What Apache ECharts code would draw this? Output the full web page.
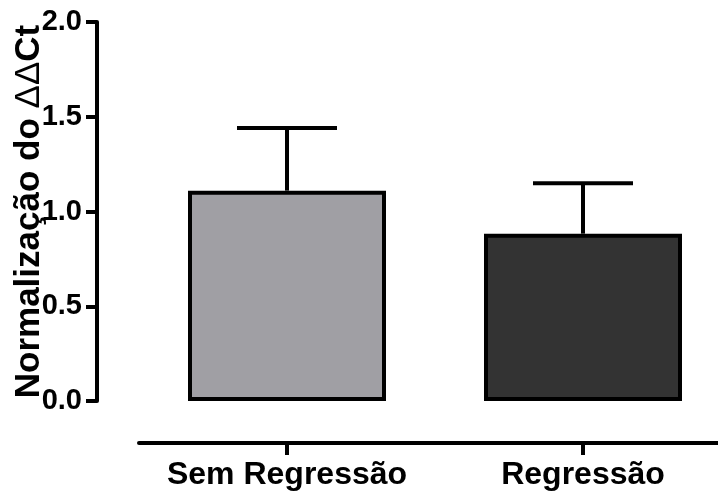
<!DOCTYPE html>
<html>
<head>
<meta charset="utf-8">
<script src="https://cdn.jsdelivr.net/npm/echarts@6/dist/echarts.min.js"></script>
<style>
  html, body { margin: 0; padding: 0; background: #ffffff; }
  #chart { width: 718px; height: 498px; }
</style>
</head>
<body>
<div id="chart"></div>
<script>
// Group names and measured values (mean and standard error)
const categories = ['Sem Regressão', 'Regressão'];
const means = [1.11, 0.883];
const sems = [0.33, 0.266];
const barColors = ['#a09fa4', '#333333'];
const yTicks = [0, 0.5, 1.0, 1.5, 2.0];

const FONT = '"Liberation Sans", Arial, Helvetica, sans-serif';
const STROKE = 4;

const chart = echarts.init(document.getElementById('chart'), null, { renderer: 'canvas' });

const option = {
  backgroundColor: '#ffffff',
  animation: false,
  grid: { left: 139, top: 22, width: 592, height: 379, containLabel: false, outerBoundsMode: 'none' },
  xAxis: {
    type: 'category',
    data: categories,
    offset: 42,
    axisLine: { show: true, onZero: false, lineStyle: { color: '#000', width: STROKE } },
    axisTick: { show: true, alignWithLabel: true, length: 12, lineStyle: { color: '#000', width: STROKE } },
    axisLabel: {
      interval: 0,
      margin: 16,
      color: '#000',
      fontFamily: FONT,
      fontWeight: 'bold',
      fontSize: 32
    },
    splitLine: { show: false }
  },
  yAxis: {
    type: 'value',
    min: yTicks[0],
    max: yTicks[yTicks.length - 1],
    interval: yTicks[1] - yTicks[0],
    offset: 42,
    name: '{b|Normalização do }{d|ΔΔ}{b|Ct}',
    nameLocation: 'middle',
    nameGap: 50,
    nameMoveOverlap: false,
    nameTextStyle: {
      rich: {
        b: { fontFamily: FONT, fontWeight: 'bold', fontSize: 35, color: '#000' },
        d: { fontFamily: FONT, fontWeight: 'normal', fontSize: 35, color: '#000' }
      }
    },
    axisLine: { show: true, onZero: false, lineStyle: { color: '#000', width: STROKE } },
    axisTick: { show: true, length: 11, lineStyle: { color: '#000', width: STROKE } },
    axisLabel: {
      margin: 15,
      color: '#000',
      fontFamily: FONT,
      fontWeight: 'bold',
      fontSize: 29,
      formatter: v => v.toFixed(1)
    },
    splitLine: { show: false }
  },
  series: [
    {
      type: 'bar',
      barWidth: 198,
      data: means.map((m, i) => ({
        value: m,
        itemStyle: { color: barColors[i], borderColor: '#000', borderWidth: STROKE }
      })),
      z: 2
    },
    {
      // upper error whisker: stem from bar top to mean + SEM, with a cap
      type: 'custom',
      z: 3,
      data: means.map((m, i) => [i, m, m + sems[i]]),
      renderItem: (params, api) => {
        const x = api.value(0);
        const top = api.coord([x, api.value(1)]);
        const hi = api.coord([x, api.value(2)]);
        const capHalf = 50;
        const style = { stroke: '#000', lineWidth: STROKE };
        return {
          type: 'group',
          children: [
            { type: 'line', shape: { x1: top[0], y1: top[1], x2: hi[0], y2: hi[1] }, style },
            { type: 'line', shape: { x1: hi[0] - capHalf, y1: hi[1], x2: hi[0] + capHalf, y2: hi[1] }, style }
          ]
        };
      }
    }
  ]
};

chart.setOption(option);
</script>
</body>
</html>
